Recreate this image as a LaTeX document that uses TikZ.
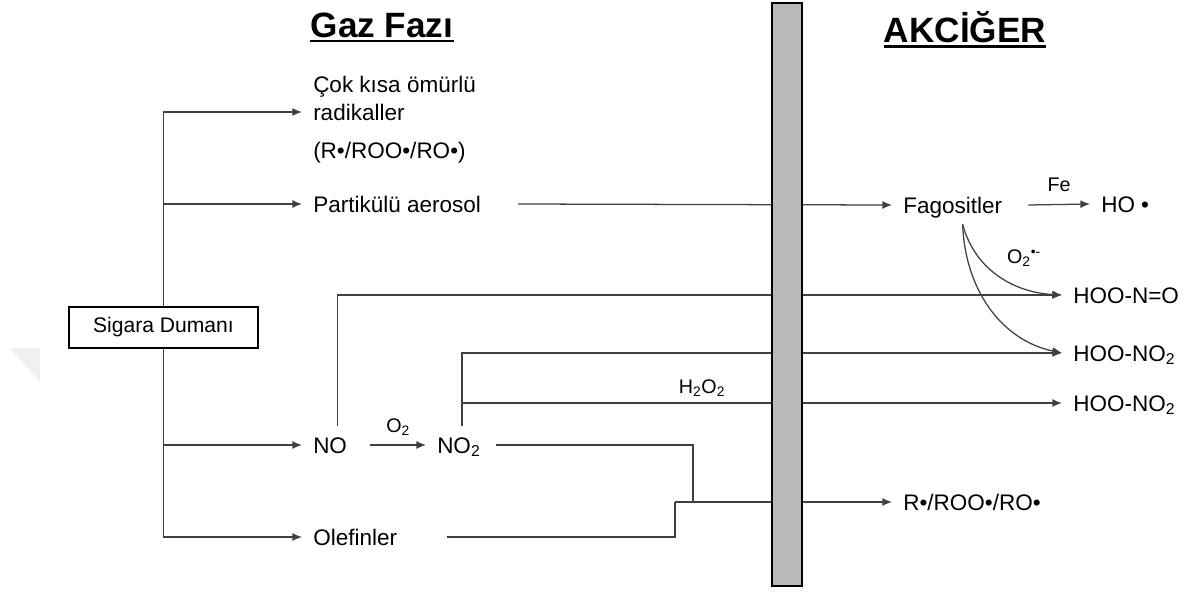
\documentclass[tikz,border=0pt]{standalone}
\usepackage{fontspec}
\setmainfont{Liberation Sans}
\usepackage{tikz}
\usetikzlibrary{arrows.meta}

\begin{document}
\begin{tikzpicture}[x=0.025cm, y=-0.025cm,
        line/.style = {draw=black!75, line width=0.9pt},
        arr/.style = {line, -{Latex[length=2.4mm, width=2mm]}},
        box/.style = {draw, line width=0.9pt, minimum width=4.725cm, minimum height=1.025cm, font=\fontsize{15}{17}\selectfont},
        lbl/.style = {anchor=west, inner sep=2pt, outer sep=6pt, text height=11.5pt, text depth=0pt, font=\fontsize{16}{18}\selectfont},
        small/.style = {inner sep=1pt, font=\fontsize{14}{16}\selectfont},
        title/.style = {inner sep=0pt, font=\fontsize{25}{28}\selectfont\bfseries}]
            \useasboundingbox (0,0) rectangle (1184,593);
            \fill[gray!12] (10,348) -- (40,348) -- (40,382) -- cycle;

            \node[title] (gaz) at (382,25) {Gaz Fazı};
            \node[title] (akc) at (965,27) {AKCİĞER};
            \draw[line width=1.6pt] ([yshift=-3pt]gaz.base west) -- ([yshift=-3pt]gaz.base east);
            \draw[line width=1.6pt] ([yshift=-3pt]akc.base west) -- ([yshift=-3pt]akc.base east);

            \node[box] (SD) at (163.5,327.5) {Sigara Dumanı};

            \node[lbl] (rad1) at (302,84) {Çok kısa ömürlü};
            \node[lbl] (rad) at (302,112) {radikaller};
            \node[lbl] (radR) at (302,150) {(R•/ROO•/RO•)};
            \node[lbl] (aer) at (302,204) {Partikülü aerosol};
            \node[lbl] (NO) at (302,445) {NO};
            \node[lbl] (NO2) at (426,445) {NO\textsubscript{2}};
            \node[lbl] (Olef) at (302,537) {Olefinler};

            \node[lbl] (Fag) at (892,205) {Fagositler};
            \node[lbl] (HO) at (1090,204) {HO •};
            \node[lbl] (HNO) at (1062,295) {HOO-N=O};
            \node[lbl] (HNO2a) at (1062,353) {HOO-NO\textsubscript{2}};
            \node[lbl] (HNO2b) at (1062,403) {HOO-NO\textsubscript{2}};
            \node[lbl] (R2) at (892,502) {R•/ROO•/RO•};

            \coordinate (J) at (693,502);
            \coordinate (J2) at (675,502);
            \coordinate (F0) at ([xshift=0.25cm]Fag.south);

            % gaz fazi
            \draw[arr] (SD.north) |- (rad.west);
            \draw[arr] (SD.north) |- (aer.west);
            \draw[arr] (SD.south) |- (NO.west);
            \draw[arr] (SD.south) |- (Olef.west);
            \draw[arr] (NO.east) ++(12,0) -- (NO2.west) node[small, midway, above=5pt] {O\textsubscript{2}};

            % akciger
            \draw[arr] (aer.east) ++(26,0) -- (Fag.west);
            \draw[arr] ([xshift=0.18cm]NO.north) |- (HNO.west);
            \draw[arr] ([xshift=0.08cm]NO2.north) |- (HNO2a.west);
            \draw[arr] ([xshift=0.08cm]NO2.north) |- (HNO2b.west) node[small, pos=0.7, above=3pt] {H\textsubscript{2}O\textsubscript{2}};
            \draw[line] (NO2.east) ++(4,0) -| (J);
            \draw[line] (Olef.east) ++(39,0) -| (J2);
            \draw[arr] (J2) -- (R2.west);
            \draw[arr] (Fag.east) ++(15,0) -- (HO.west) node[small, midway, above=8pt] {Fe};
            \draw[arr] (F0) to[out=-75, in=177] (HNO.west);
            \draw[arr] (F0) to[out=-88, in=168] (HNO2a.west);
            \node[small] (O2r) at (1024,258) {O\textsubscript{2}\textsuperscript{•-}};

            \draw[line width=1pt, fill=gray!55] (772,3) rectangle (802,586);
        \end{tikzpicture}
\end{document}
